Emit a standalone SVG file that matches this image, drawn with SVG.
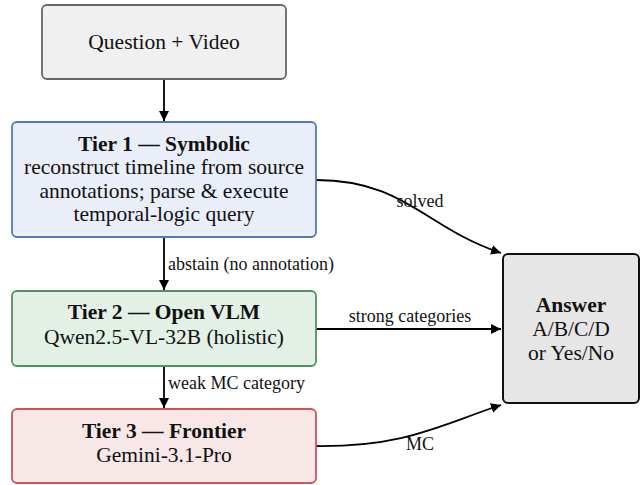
<svg xmlns="http://www.w3.org/2000/svg" width="641" height="485" viewBox="0 0 641 485">
<defs>
<style>
.t{font-family:"Liberation Serif","Times New Roman",serif;font-size:21.5px;fill:#111;text-anchor:middle}
.b{font-weight:bold}
.l{font-family:"Liberation Serif","Times New Roman",serif;font-size:18px;fill:#111}
.c{fill:none;stroke:#000;stroke-width:1.8}
</style>
<marker id="ah" viewBox="0 0 10 10" refX="10" refY="5" markerWidth="10" markerHeight="10" markerUnits="userSpaceOnUse" orient="auto">
<path d="M0,0 L10,5 L0,10 z" fill="#000"/>
</marker>
</defs>
<rect width="641" height="485" fill="#fff"/>
<g id="connectors">
<path class="c" d="M164,79 L164,121" marker-end="url(#ah)"/>
<path class="c" d="M164,237 L164,290" marker-end="url(#ah)"/>
<path class="c" d="M164,366 L164,408" marker-end="url(#ah)"/>
<path class="c" d="M316,180 C405,180 425,228 501,253" marker-end="url(#ah)"/>
<path class="c" d="M316,329 L501,329" marker-end="url(#ah)"/>
<path class="c" d="M316,446 C405,447 440,425 501,405" marker-end="url(#ah)"/>
<text class="l" x="168" y="270">abstain (no annotation)</text>
<text class="l" x="168" y="389">weak MC category</text>
<text class="l" x="420" y="207" text-anchor="middle">solved</text>
<text class="l" x="410" y="322" text-anchor="middle">strong categories</text>
<text class="l" x="420" y="450" text-anchor="middle">MC</text>
</g>
<g id="question">
<rect x="42" y="5" width="244" height="74" rx="5" fill="#f0f0f0" stroke="#666" stroke-width="1.8"/>
<text class="t" x="164" y="49">Question + Video</text>
</g>
<g id="tier1">
<rect x="12" y="122" width="304" height="115" rx="5" fill="#e9eef8" stroke="#4f78bd" stroke-width="1.8"/>
<text class="t b" x="164" y="151">Tier 1 — Symbolic</text>
<text class="t" x="164" y="174">reconstruct timeline from source</text>
<text class="t" x="164" y="198">annotations; parse &amp; execute</text>
<text class="t" x="164" y="221">temporal-logic query</text>
</g>
<g id="tier2">
<rect x="12" y="291" width="304" height="75" rx="5" fill="#e3f0e6" stroke="#4f9160" stroke-width="1.8"/>
<text class="t b" x="164" y="319">Tier 2 — Open VLM</text>
<text class="t" x="164" y="344">Qwen2.5-VL-32B (holistic)</text>
</g>
<g id="tier3">
<rect x="12" y="409" width="304" height="74" rx="5" fill="#f8e7e7" stroke="#cc555a" stroke-width="1.8"/>
<text class="t b" x="164" y="438">Tier 3 — Frontier</text>
<text class="t" x="164" y="462">Gemini-3.1-Pro</text>
</g>
<g id="answer">
<rect x="503" y="254" width="136" height="149" rx="5" fill="#e6e6e6" stroke="#111" stroke-width="2"/>
<text class="t b" x="571" y="312">Answer</text>
<text class="t" x="571" y="336">A/B/C/D</text>
<text class="t" x="571" y="360">or Yes/No</text>
</g>
</svg>
